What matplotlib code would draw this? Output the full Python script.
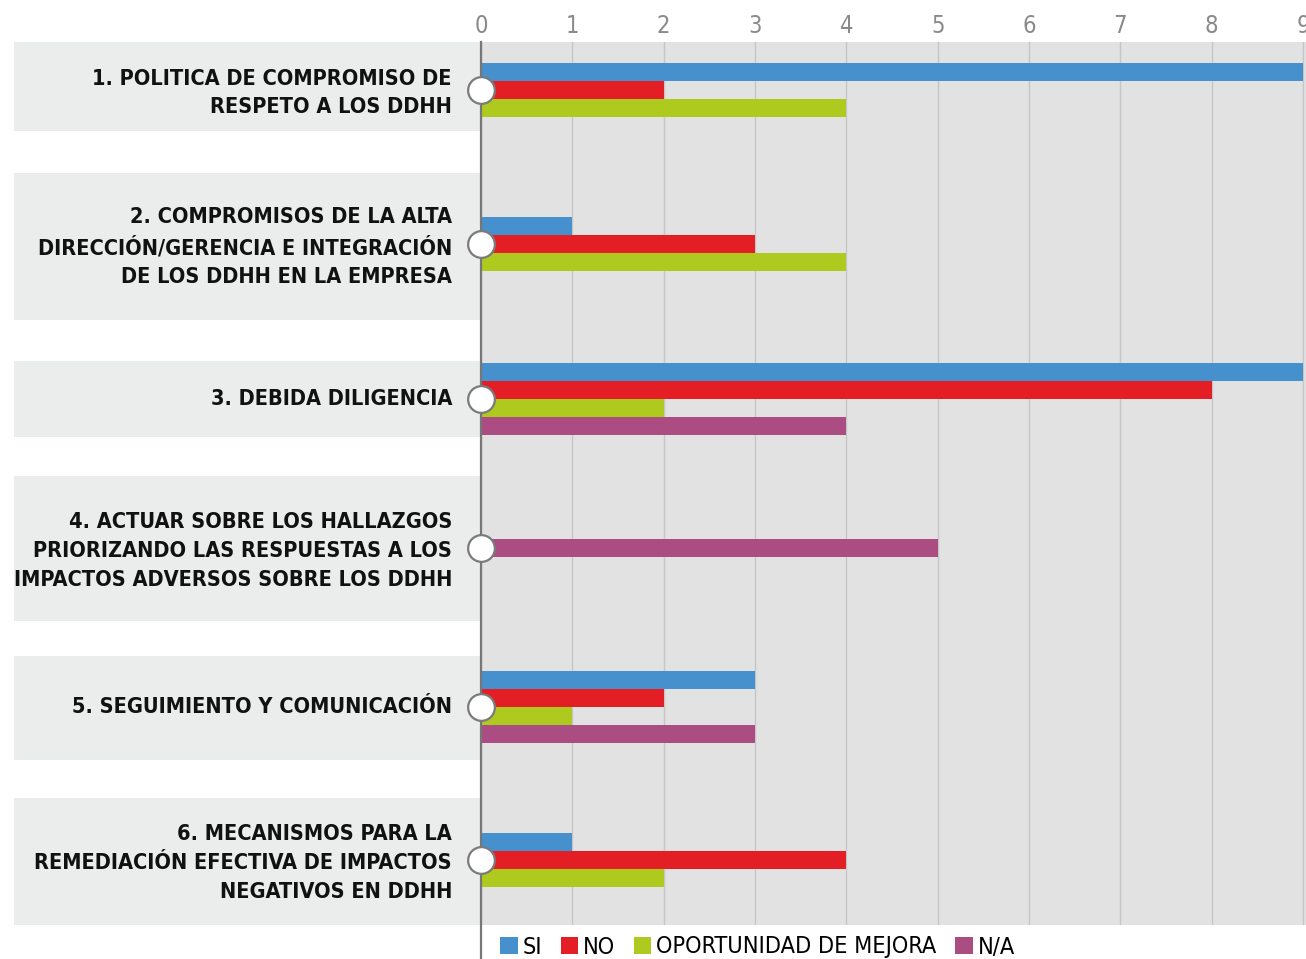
import matplotlib
matplotlib.use("Agg")
import matplotlib.pyplot as plt
from matplotlib import font_manager as fm
from matplotlib.patches import Rectangle

# ---------------- data ----------------
categories = [
    "1. POLITICA DE COMPROMISO DE\nRESPETO A LOS DDHH",
    "2. COMPROMISOS DE LA ALTA\nDIRECCIÓN/GERENCIA E INTEGRACIÓN\nDE LOS DDHH EN LA EMPRESA",
    "3. DEBIDA DILIGENCIA",
    "4. ACTUAR SOBRE LOS HALLAZGOS\nPRIORIZANDO LAS RESPUESTAS A LOS\nIMPACTOS ADVERSOS SOBRE LOS DDHH",
    "5. SEGUIMIENTO Y COMUNICACIÓN",
    "6. MECANISMOS PARA LA\nREMEDIACIÓN EFECTIVA DE IMPACTOS\nNEGATIVOS EN DDHH",
]
series_names = ["SI", "NO", "OPORTUNIDAD DE MEJORA", "N/A"]
si = [9, 1, 9, 0, 3, 1]
no = [2, 3, 8, 0, 2, 4]
oportunidad = [4, 4, 2, 0, 1, 2]
na = [0, 0, 4, 5, 3, 0]
x_ticks = [0, 1, 2, 3, 4, 5, 6, 7, 8, 9]

# ---------------- layout / style ----------------
W, H = 1306, 959
colors = ["#4590cd", "#e31e24", "#afca1f", "#ab4c83"]
centers = [90, 244, 399, 548, 707, 860]          # pixel rows of each group
bands = [(42, 131), (173, 320), (361, 437), (476, 621), (656, 760), (798, 925)]
bar_h = 17.8

available = {f.name for f in fm.fontManager.ttflist}
if "Liberation Sans Narrow" in available:
    FONT = dict(family="Liberation Sans Narrow")
else:
    FONT = dict(family="DejaVu Sans", stretch="condensed")

fig = plt.figure(figsize=(W / 100, H / 100), dpi=100)
ax_left, ax_right, ax_top, ax_bot = 481, 1306, 42, 925
ax = fig.add_axes([ax_left / W, 1 - ax_bot / H, (ax_right - ax_left) / W, (ax_bot - ax_top) / H])
ax.set_facecolor("#e2e2e2")
ax.set_xlim(0, 9 * (ax_right - ax_left) / (1303 - ax_left))
ax.set_ylim(ax_bot, ax_top)

# label bands (figure coords, behind the axes)
for top, bot in bands:
    fig.patches.append(Rectangle((14 / W, 1 - bot / H), (ax_left - 14) / W, (bot - top) / H,
                                 transform=fig.transFigure, facecolor="#ebecec",
                                 edgecolor="none", zorder=-5))

# bars
all_series = [si, no, oportunidad, na]
for ci, yc in enumerate(centers):
    present = [k for k in range(4) if all_series[k][ci] > 0]
    n = len(present)
    for i, k in enumerate(present):
        y = yc + (i - (n - 1) / 2) * bar_h
        ax.barh(y, all_series[k][ci], height=bar_h, color=colors[k], zorder=3)

# grid
ax.set_xticks(x_ticks)
ax.xaxis.tick_top()
ax.grid(axis="x", color="#c6c6c6", linewidth=1.0, zorder=1)
ax.set_axisbelow(True)
ax.tick_params(axis="x", length=0, pad=3, labelsize=17, labelcolor="#8a8a8a")
for t in ax.get_xticklabels():
    t.set_fontfamily(FONT["family"])
    if "stretch" in FONT:
        t.set_fontstretch(FONT["stretch"])

# category labels
ax.set_yticks(centers)
ax.set_yticklabels([])
ax.tick_params(axis="y", length=0)
for label, yc in zip(categories, centers):
    up = -3 if "\n" in label else 0
    ax.annotate(label, xy=(0, yc), xycoords="data", xytext=(-29, up),
                textcoords="offset pixels", ha="right", va="center",
                fontsize=15.6, fontweight="bold", color="#111111",
                linespacing=1.56, annotation_clip=False, **FONT)

for s in ax.spines.values():
    s.set_visible(False)

# zero axis line extending down through legend
ax.plot([0, 0], [ax_top, H], color="#777777", linewidth=1.6, clip_on=False, zorder=4)
# circles
ax.scatter([0] * len(centers), centers, s=370, facecolor="white", edgecolor="#7a7a7a",
           linewidth=1.6, zorder=6, clip_on=False)

# legend
handles = [Rectangle((0, 0), 1, 1, facecolor=c, edgecolor="none") for c in colors]
leg = fig.legend(handles, series_names, loc="center left",
                 bbox_to_anchor=(500 / W, 1 - 947 / H), ncol=4, frameon=False,
                 handlelength=0.76, handleheight=0.76, handletextpad=0.2,
                 columnspacing=0.8, borderpad=0, borderaxespad=0,
                 prop=dict(size=16.8, **FONT))

fig.savefig("out.png", dpi=100, facecolor="white")
